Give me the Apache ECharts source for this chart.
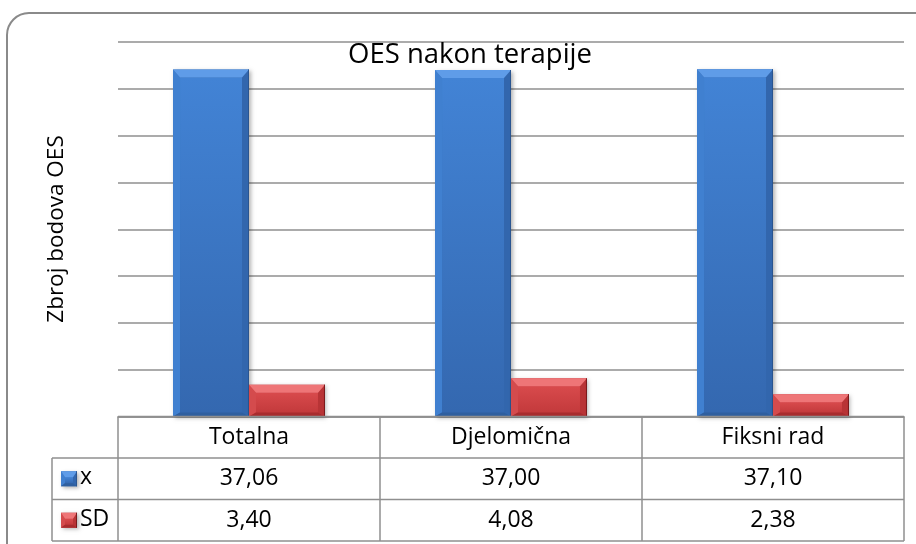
<!DOCTYPE html>
<html>
<head>
<meta charset="utf-8">
<script src="https://cdn.jsdelivr.net/npm/echarts@6/dist/echarts.min.js"></script>
<style>
  html, body { margin: 0; padding: 0; background: #fff; }
  #chart { width: 916px; height: 544px; }
</style>
</head>
<body>
<div id="chart"></div>
<script>
// Chart data
const categories = ['Totalna', 'Djelomična', 'Fiksni rad'];
const seriesNames = ['x', 'SD'];
const meanValues = [37.06, 37.00, 37.10];
const sdValues = [3.40, 4.08, 2.38];
const chartTitle = 'OES nakon terapije';
const yAxisTitle = 'Zbroj bodova OES';

const FONT = '"Open Sans", sans-serif';
const LINE = '#8f8f8f';

// Bevel palettes: [face top, face bottom, top edge, left edge, right edge, bottom edge, outline]
const palettes = [
  ['#4283d5', '#3468b0', '#5f9ce8', '#4080d0', '#3266ad', '#2f5f9f', '#2a5590'],
  ['#d84a4c', '#c33a3c', '#ee7577', '#d44b4d', '#b83436', '#a82c2e', '#7a1a1c']
];

const fmt = v => v.toFixed(2).replace('.', ',');

// Draws a bevelled column: flat face with four sloped edges
function bevelBar(x, y, w, h, pal) {
  const sx = Math.min(7, w / 4);
  const st = Math.min(8, h / 2.5);
  const sb = Math.min(4, h / 5);
  const x1 = x + w, y1 = y + h;
  const ix0 = x + sx, ix1 = x1 - sx, iy0 = y + st, iy1 = y1 - sb;
  const grad = new echarts.graphic.LinearGradient(0, 0, 0, 1, [
    { offset: 0, color: pal[0] }, { offset: 1, color: pal[1] }
  ]);
  return {
    type: 'group',
    children: [
      { type: 'rect', shape: { x: x, y: y, width: w, height: h },
        style: { fill: pal[1], shadowBlur: 4, shadowOffsetX: 1.5, shadowOffsetY: 1.5, shadowColor: 'rgba(0,0,0,0.3)' } },
      { type: 'rect', shape: { x: ix0, y: iy0, width: ix1 - ix0, height: Math.max(iy1 - iy0, 0) }, style: { fill: grad } },
      { type: 'polygon', shape: { points: [[x, y], [ix0, iy0], [ix0, iy1], [x, y1]] }, style: { fill: pal[3] } },
      { type: 'polygon', shape: { points: [[x1, y], [x1, y1], [ix1, iy1], [ix1, iy0]] }, style: { fill: pal[4] } },
      { type: 'polygon', shape: { points: [[x, y], [x1, y], [ix1, iy0], [ix0, iy0]] }, style: { fill: pal[2] } },
      { type: 'polygon', shape: { points: [[x, y1], [ix0, iy1], [ix1, iy1], [x1, y1]] }, style: { fill: pal[5] } },
      { type: 'line', shape: { x1: x1 - 0.5, y1: y, x2: x1 - 0.5, y2: y1 }, style: { stroke: pal[6], lineWidth: 1 } }
    ]
  };
}

function makeRender(seriesIdx) {
  return function (params, api) {
    const cat = api.value(0);
    const val = api.value(1);
    const base = api.coord([cat, 0]);
    const top = api.coord([cat, val]);
    const bw = api.size([1, 0])[0] * 0.29;
    const x0 = base[0] + (seriesIdx === 0 ? -bw : 0);
    return bevelBar(x0, top[1], bw, base[1] - top[1], palettes[seriesIdx]);
  };
}

const chart = echarts.init(document.getElementById('chart'), null, { renderer: 'canvas' });

const grid = { left: 118, right: 12, top: 42, bottom: 127.5 };

chart.setOption({
  animation: false,
  backgroundColor: '#fff',
  grid: grid,
  xAxis: {
    type: 'category',
    data: categories,
    axisLine: { show: true, lineStyle: { color: LINE, width: 1.5 } },
    axisTick: { show: false },
    axisLabel: { show: false },
    splitLine: { show: false }
  },
  yAxis: {
    type: 'value',
    min: 0, max: 40, interval: 5,
    axisLine: { show: false },
    axisTick: { show: false },
    axisLabel: { show: false },
    splitLine: { show: true, lineStyle: { color: LINE, width: 1.5 } }
  },
  series: [
    { type: 'custom', name: seriesNames[0], renderItem: makeRender(0), encode: { x: 0, y: 1 },
      data: meanValues.map((v, i) => [i, v]), z: 3 },
    { type: 'custom', name: seriesNames[1], renderItem: makeRender(1), encode: { x: 0, y: 1 },
      data: sdValues.map((v, i) => [i, v]), z: 3 }
  ]
});

// Data table under the plot, plus frame and titles
function buildOverlay() {
  const W = 916;
  const plotL = grid.left, plotR = W - grid.right;
  const axisY = chart.convertToPixel({ yAxisIndex: 0 }, 0);
  const rowH = 41.5;
  const rows = [axisY, axisY + rowH, axisY + 2 * rowH, axisY + 3 * rowH];
  const keyL = 52;
  const centers = categories.map((c, i) => chart.convertToPixel({ xAxisIndex: 0 }, i));
  const band = centers.length > 1 ? centers[1] - centers[0] : plotR - plotL;

  const els = [];
  const line = (x1, y1, x2, y2) => els.push({
    type: 'line', shape: { x1, y1, x2, y2 }, style: { stroke: LINE, lineWidth: 1.5 }, z: 10
  });
  const text = (x, y, s, align) => els.push({
    type: 'text', x, y, z: 11,
    style: { text: s, font: '23px ' + FONT, fill: '#000', align: align || 'center', verticalAlign: 'middle' }
  });

  // outer rounded frame
  els.push({ type: 'rect', shape: { x: 7, y: 13, width: 940, height: 560, r: 22 },
    style: { fill: 'none', stroke: '#8a8a8a', lineWidth: 2 }, z: 1 });

  // table grid lines
  line(plotL, rows[0], plotR, rows[0]);
  line(keyL, rows[1], plotR, rows[1]);
  line(keyL, rows[2], plotR, rows[2]);
  line(keyL, rows[3], plotR, rows[3]);
  line(keyL, rows[1], keyL, rows[3]);
  line(plotL, rows[0], plotL, rows[3]);
  centers.forEach(c => line(c + band / 2, rows[0], c + band / 2, rows[3]));

  // header and values
  const rowValues = [meanValues, sdValues];
  centers.forEach((c, i) => {
    text(c, (rows[0] + rows[1]) / 2, categories[i]);
    rowValues.forEach((vals, r) => text(c, (rows[r + 1] + rows[r + 2]) / 2, fmt(vals[i])));
  });

  // legend keys
  seriesNames.forEach((n, r) => {
    const cy = (rows[r + 1] + rows[r + 2]) / 2;
    els.push(Object.assign(bevelBar(61, cy - 7.5, 16, 15, palettes[r]), { z: 11 }));
    text(80, cy - 1, n, 'left');
  });

  // titles
  els.push({ type: 'text', x: 470, y: 55, z: 12,
    style: { text: chartTitle, font: '27.5px ' + FONT, fill: '#000', align: 'center', verticalAlign: 'middle' } });
  els.push({ type: 'text', x: 57, y: 229, rotation: Math.PI / 2, z: 12,
    style: { text: yAxisTitle, font: '22.5px ' + FONT, fill: '#000', align: 'center', verticalAlign: 'middle' } });

  chart.setOption({ graphic: els });
}
buildOverlay();
</script>
</body>
</html>
